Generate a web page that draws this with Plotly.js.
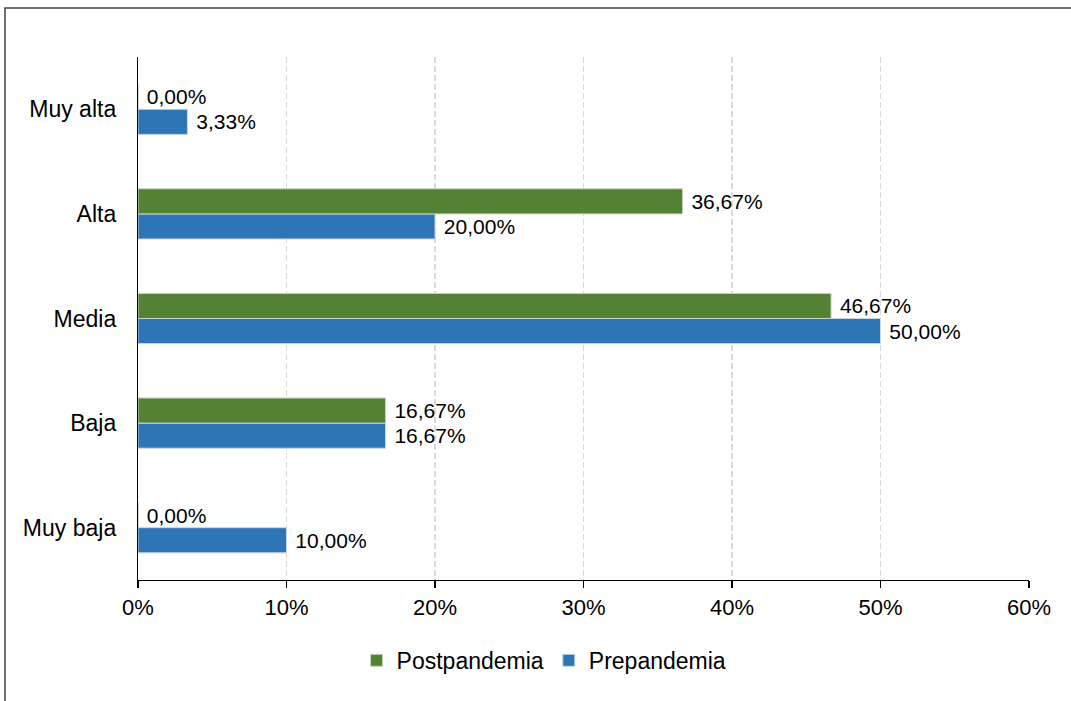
<!DOCTYPE html>
<html>
<head>
<meta charset="utf-8">
<script src="https://cdn.plot.ly/plotly-3.0.1.min.js"></script>
<style>html,body{margin:0;padding:0;background:#fff;}#chart{width:1071px;height:701px;}</style>
</head>
<body>
<div id="chart"></div>
<script>
const categories = ['Muy baja', 'Baja', 'Media', 'Alta', 'Muy alta'];
const prepandemia = [10.00, 16.67, 50.00, 20.00, 3.33];
const postpandemia = [0.00, 16.67, 46.67, 36.67, 0.00];
const xTicks = [0, 10, 20, 30, 40, 50, 60];
const xTickLabels = ['0%', '10%', '20%', '30%', '40%', '50%', '60%'];

const font = {family: 'Liberation Sans, Arial, sans-serif', color: '#000000'};

const traces = [
  {
    type: 'bar', orientation: 'h', name: 'Prepandemia',
    y: categories, x: prepandemia,
    marker: {color: '#2E75B6', line: {color: '#C9D6E3', width: 1}},
    texttemplate: ' %{x:.2f}%', textposition: 'outside', cliponaxis: false,
    textfont: {family: font.family, size: 21, color: '#000'},
    hoverinfo: 'skip'
  },
  {
    type: 'bar', orientation: 'h', name: 'Postpandemia',
    y: categories, x: postpandemia,
    marker: {color: '#548235', line: {color: '#C9D6C0', width: 1}},
    texttemplate: ' %{x:.2f}%', textposition: 'outside', cliponaxis: false,
    textfont: {family: font.family, size: 21, color: '#000'},
    hoverinfo: 'skip'
  }
];

const layout = {
  width: 1071, height: 701,
  margin: {l: 138, r: 42, t: 57, b: 121},
  paper_bgcolor: '#ffffff', plot_bgcolor: '#ffffff',
  separators: ',.',
  font: font,
  barmode: 'group',
  bargap: 0.52,
  bargroupgap: 0,
  showlegend: true,
  legend: {
    orientation: 'h', traceorder: 'reversed',
    xref: 'container', x: 0.508, xanchor: 'center',
    yref: 'container', y: 0.058, yanchor: 'middle',
    font: {family: font.family, size: 23, color: '#000'},
    itemwidth: 30
  },
  xaxis: {
    range: [0, 60], tickmode: 'array', tickvals: xTicks, ticktext: xTickLabels,
    showgrid: true, gridcolor: '#D9D9D9', griddash: '6px,3px', gridwidth: 1.2,
    zeroline: false,
    showline: true, linecolor: '#000', linewidth: 1.2,
    ticks: 'outside', ticklen: 7, tickcolor: '#000', tickwidth: 1.2,
    tickfont: {family: font.family, size: 22, color: '#000'},
    fixedrange: true
  },
  yaxis: {
    type: 'category', categoryorder: 'array', categoryarray: categories,
    showgrid: false, zeroline: false,
    showline: true, linecolor: '#000', linewidth: 1.2,
    ticks: '', ticklabelstandoff: 16,
    tickfont: {family: font.family, size: 23, color: '#000'},
    fixedrange: true
  },
  shapes: [{
    type: 'rect', xref: 'paper', yref: 'paper',
    x0: (5 - 138) / 891, x1: 1.1, y0: -0.3, y1: (580 - 8) / 523,
    line: {color: '#404040', width: 1.5}, fillcolor: 'rgba(0,0,0,0)', layer: 'below'
  }]
};

Plotly.newPlot('chart', traces, layout, {displayModeBar: false, staticPlot: true});
</script>
</body>
</html>
